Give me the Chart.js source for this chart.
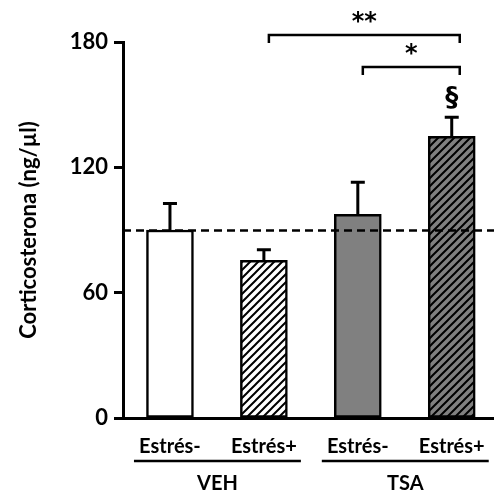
<!DOCTYPE html>
<html>
<head>
<meta charset="utf-8">
<script src="https://cdn.jsdelivr.net/npm/chart.js@4.4.0/dist/chart.umd.min.js"></script>
<style>
  html, body { margin: 0; padding: 0; background: #fff; }
  #wrap { width: 494px; height: 491px; }
</style>
</head>
<body>
<div id="wrap"><canvas id="cortChart" width="494" height="491"></canvas></div>
<script>
// data
const categories = ['Estrés-', 'Estrés+', 'Estrés-', 'Estrés+'];
const groups = ['VEH', 'TSA'];
const groupMembers = [[0, 1], [2, 3]];
const means = [90, 75.5, 97.5, 134.8];
const sem = [12.7, 5.1, 15.3, 9.2];
const controlLevel = 89.8;
const yTicks = [0, 60, 120, 180];
// [from bar, to bar, level, label]
const brackets = [
    [1, 3, 183.4, '**'],
    [2, 3, 168, '*']
];
const marks = [[3, 152.5, '§']];

const FONT = 'Lato, "Open Sans", sans-serif';

function hatch(bg) {
    const c = document.createElement('canvas');
    c.width = 8; c.height = 8;
    const g = c.getContext('2d');
    g.fillStyle = bg;
    g.fillRect(0, 0, 8, 8);
    g.strokeStyle = '#000';
    g.lineWidth = 2;
    g.beginPath();
    g.moveTo(-2, 10); g.lineTo(10, -2);
    g.moveTo(-2, 2); g.lineTo(2, -2);
    g.moveTo(6, 10); g.lineTo(10, 6);
    g.stroke();
    return g.createPattern(c, 'repeat');
}

const fills = ['#ffffff', hatch('#ffffff'), '#808080', hatch('#808080')];

const extras = {
    id: 'extras',
    afterDatasetsDraw(chart) {
        const ctx = chart.ctx;
        const x = chart.scales.x, y = chart.scales.y;
        const area = chart.chartArea;
        ctx.save();

        // control reference line
        ctx.strokeStyle = '#000';
        ctx.lineWidth = 2.5;
        ctx.setLineDash([8, 5]);
        ctx.beginPath();
        ctx.moveTo(area.left, y.getPixelForValue(controlLevel));
        ctx.lineTo(area.right, y.getPixelForValue(controlLevel));
        ctx.stroke();
        ctx.setLineDash([]);

        // error bars (upper only)
        ctx.lineWidth = 3;
        means.forEach((m, i) => {
            const px = x.getPixelForValue(i);
            const top = y.getPixelForValue(m + sem[i]);
            ctx.beginPath();
            ctx.moveTo(px, y.getPixelForValue(m));
            ctx.lineTo(px, top);
            ctx.moveTo(px - 7, top);
            ctx.lineTo(px + 7, top);
            ctx.stroke();
        });

        // significance brackets
        ctx.lineWidth = 2.5;
        ctx.fillStyle = '#000';
        ctx.font = 'bold 24px "DejaVu Sans", sans-serif';
        ctx.textAlign = 'center';
        ctx.textBaseline = 'middle';
        brackets.forEach(([a, b, lvl, lab]) => {
            const x1 = x.getPixelForValue(a) + 5;
            const x2 = x.getPixelForValue(b) + 8;
            const py = y.getPixelForValue(lvl);
            ctx.beginPath();
            ctx.moveTo(x1, py + 8);
            ctx.lineTo(x1, py);
            ctx.lineTo(x2, py);
            ctx.lineTo(x2, py + 8);
            ctx.stroke();
            ctx.fillText(lab, (x1 + x2) / 2, py - 12);
        });
        ctx.font = 'bold 26px "DejaVu Sans", sans-serif';
        marks.forEach(([i, lvl, lab]) => {
            ctx.fillText(lab, x.getPixelForValue(i), y.getPixelForValue(lvl));
        });

        // category labels, group lines and group names
        const base = area.bottom;
        ctx.font = 'bold 20px ' + FONT;
        ctx.textBaseline = 'alphabetic';
        categories.forEach((c, i) => {
            ctx.fillText(c, x.getPixelForValue(i), base + 35);
        });
        ctx.lineWidth = 2.5;
        groups.forEach((gname, gi) => {
            const [a, b] = groupMembers[gi];
            const x1 = x.getPixelForValue(a) - 36;
            const x2 = x.getPixelForValue(b) + 37;
            ctx.beginPath();
            ctx.moveTo(x1, base + 43);
            ctx.lineTo(x2, base + 43);
            ctx.stroke();
            ctx.fillText(gname, (x1 + x2) / 2, base + 72);
        });
        ctx.restore();
    }
};

new Chart(document.getElementById('cortChart').getContext('2d'), {
    type: 'bar',
    data: {
        datasets: [{
            data: means.map((v, i) => ({ x: i, y: v })),
            backgroundColor: fills,
            borderColor: '#000',
            borderWidth: 2.5,
            borderSkipped: false,
            barThickness: 47
        }]
    },
    plugins: [extras],
    options: {
        responsive: false,
        animation: false,
        devicePixelRatio: 1,
        layout: { padding: { top: 42, right: 0, left: 0, bottom: 0 } },
        plugins: { legend: { display: false }, tooltip: { enabled: false } },
        scales: {
            x: {
                type: 'linear',
                offset: false,
                min: -0.5,
                max: 3.45,
                afterBuildTicks: s => { s.ticks = [0, 1, 2, 3].map(v => ({ value: v })); },
                afterFit: s => { s.height = 73; },
                ticks: { display: false },
                grid: { drawOnChartArea: false, drawTicks: false, offset: false },
                border: { color: '#000', width: 3 }
            },
            y: {
                min: 0,
                max: 180,
                afterBuildTicks: s => { s.ticks = yTicks.map(v => ({ value: v })); },
                afterFit: s => { s.width = 123; },
                ticks: { color: '#000', font: { family: FONT, size: 22, weight: 'bold' }, padding: 6 },
                grid: { drawOnChartArea: false, tickLength: 9, tickWidth: 3, tickColor: '#000' },
                border: { color: '#000', width: 3 },
                title: {
                    display: true,
                    text: 'Corticosterona (ng/µl)',
                    color: '#000',
                    font: { family: FONT, size: 22, weight: 'bold' },
                    padding: { top: 16, bottom: 0 }
                }
            }
        }
    }
});
</script>
</body>
</html>
